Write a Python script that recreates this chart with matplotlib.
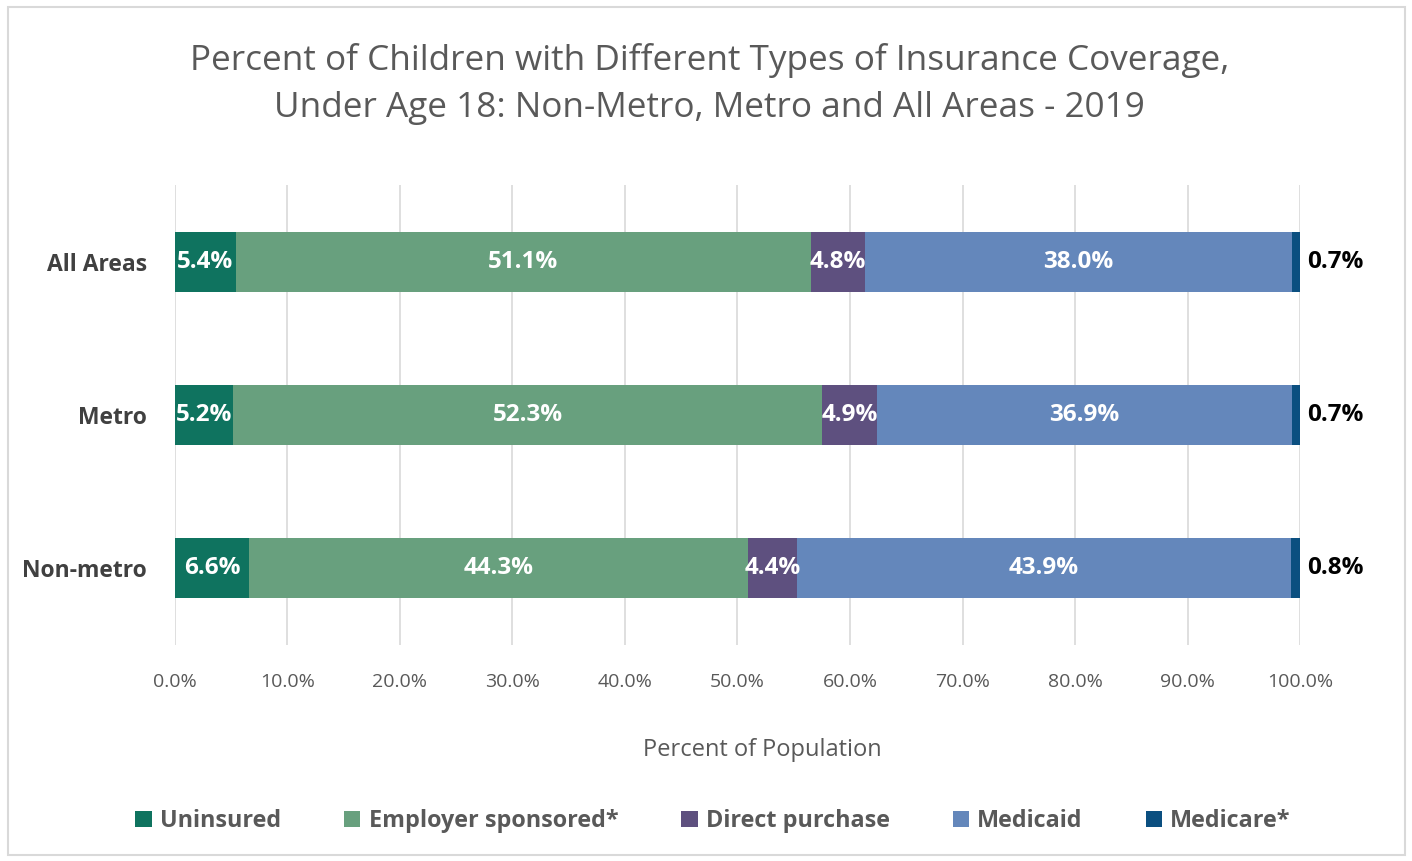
import numpy as np
import matplotlib.pyplot as plt
from matplotlib.patches import Rectangle

plt.rcParams['font.family'] = ['Open Sans', 'DejaVu Sans']

# data
areas = ["Non-metro", "Metro", "All Areas"]
series = ["Uninsured", "Employer sponsored*", "Direct purchase", "Medicaid", "Medicare*"]
uninsured = [6.6, 5.2, 5.4]
employer = [44.3, 52.3, 51.1]
direct = [4.4, 4.9, 4.8]
medicaid = [43.9, 36.9, 38.0]
medicare = [0.8, 0.7, 0.7]
colors = ["#0F735F", "#68A07E", "#5E507F", "#6487BB", "#0B4F80"]

values = [uninsured, employer, direct, medicaid, medicare]

fig = plt.figure(figsize=(14.12, 8.61), dpi=100)
ax = fig.add_axes([0.1239, 0.2509, 0.7968, 0.5341])

y = np.arange(len(areas))
left = np.zeros(len(areas))
for name, vals, col in zip(series, values, colors):
    vals = np.array(vals)
    ax.barh(y, vals, left=left, height=0.39, color=col, label=name, zorder=3)
    for yi, l, v in zip(y, left, vals):
        if name == "Medicare*":
            ax.text(100.6, yi, f"{v:.1f}%", ha="left", va="center",
                    fontsize=17.5, fontweight="bold", color="black")
        else:
            ax.text(l + v / 2, yi, f"{v:.1f}%", ha="center", va="center",
                    fontsize=17.5, fontweight="bold", color="white", zorder=4)
    left += vals

ax.set_xlim(0, 100)
ax.set_ylim(-0.5, 2.5)
ax.set_xticks(np.arange(0, 101, 10))
ax.set_xticklabels([f"{t:.1f}%" for t in np.arange(0, 101, 10)])
ax.set_yticks(y)
ax.set_yticklabels(areas, fontweight="bold")
ax.tick_params(axis="x", colors="#595959", labelsize=14, length=0, pad=20)
ax.tick_params(axis="y", colors="#404040", labelsize=16.5, length=0, pad=20)
ax.grid(axis="x", color="#D9D9D9", linewidth=1.2, zorder=0)
for s in ax.spines.values():
    s.set_visible(False)

ax.set_xlabel("Percent of Population", fontsize=17, color="#595959", labelpad=34)
ax.xaxis.label.set_x(0.522)

fig.suptitle("Percent of Children with Different Types of Insurance Coverage,\n"
             "Under Age 18: Non-Metro, Metro and All Areas - 2019",
             x=0.5025, y=0.95, fontsize=25.3, color="#595959", linespacing=1.48)

fig.legend(loc="center", bbox_to_anchor=(0.505, 0.046), ncol=5, frameon=False,
           prop={"size": 16.8, "weight": "bold"}, labelcolor="#595959",
           handlelength=0.7, handleheight=0.7, handletextpad=0.35, columnspacing=2.7)

fig.add_artist(Rectangle((8 / 1412, 6 / 861), 1397 / 1412, 848 / 861,
                         transform=fig.transFigure, fill=False,
                         edgecolor="#D9D9D9", linewidth=1.5))

fig.savefig("out.png", dpi=100)
